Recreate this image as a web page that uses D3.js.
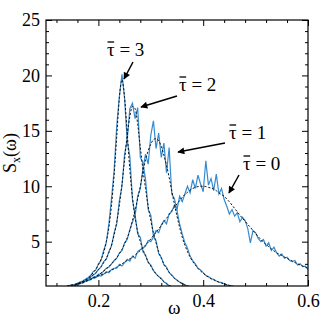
<!DOCTYPE html>
<html>
<head>
  <script src="https://d3js.org/d3.v7.min.js"></script>
  <style>
    body { margin: 0; background: #fff; }
    svg { display: block; }
    svg text { font-family: "Liberation Serif", "DejaVu Serif", "Times New Roman", serif !important; fill: #000; }
    .blue { fill: none; stroke: #368bcf; stroke-width: 1.2; }
    .theory { fill: none; stroke: #111; stroke-width: 1; stroke-dasharray: 2.2,1.8; }
  </style>
</head>
<body>
  <svg width="332" height="320"></svg>
  <script>
    // frequency grid shared by every curve (start, step)
    var omegaStart = 0.14, omegaStep = 0.005;

    // simulation spectra (blue, noisy)
    var simTau3 = [0.85,1.0,1.0,1.15,1.2,1.35,1.45,1.6,1.75,1.95,2.3,2.45,3.0,3.3,4.2,4.9,6.6,8.9,11.4,15.4,18.1,20.1,17.9,14.1,12.7,8.8,7.4,5.7,5.4,4.1,3.8,3.1,2.9,2.4,2.1,1.85,1.7,1.35,1.25,1.0,0.9];
    var simTau2 = [0.85,0.95,1.05,1.1,1.2,1.35,1.35,1.55,1.6,1.8,2.0,2.15,2.5,2.7,3.2,3.4,4.1,4.6,5.8,6.6,8.7,10.0,12.9,14.2,17.0,17.5,16.1,17.1,12.6,12.1,10.6,7.9,7.4,5.5,5.1,3.9,3.6,2.9,2.7,2.2,2.0,1.7,1.55,1.35,1.25,1.1,1.0,0.95,0.85];
    var simTau1 = [0.85,0.95,1.05,1.0,1.15,1.25,1.25,1.4,1.5,1.55,1.8,1.8,2.05,2.1,2.35,2.6,2.7,3.0,3.3,3.5,4.0,4.2,4.9,5.2,6.1,6.8,7.3,9.1,9.8,11.6,12.9,12.0,14.6,15.9,13.4,14.8,12.6,13.9,11.2,13.5,9.3,8.9,7.8,6.6,5.7,4.9,4.4,3.7,3.3,3.0,2.6,2.45,2.2,1.95,1.85,1.65,1.6,1.45,1.35,1.3,1.2,1.1,1.05,1.0,0.9];
    var simTau0 = [0.95,1.05,1.1,1.1,1.25,1.2,1.4,1.45,1.5,1.65,1.7,1.75,1.95,1.9,2.05,2.3,2.2,2.5,2.6,2.6,2.95,2.8,3.1,3.4,3.25,3.7,3.5,4.1,4.3,4.4,4.6,5.1,5.0,5.4,6.0,5.8,6.5,6.9,6.6,7.5,7.7,8.3,7.9,9.1,8.6,9.3,10.0,9.4,10.6,9.8,11.0,10.2,9.5,12.3,10.1,10.7,9.6,11.1,9.3,9.8,8.8,8.2,7.5,7.9,7.3,7.6,6.8,7.2,6.9,6.2,4.9,6.0,5.8,5.3,5.0,5.2,4.6,4.9,4.2,4.5,4.0,3.7,3.9,3.5,3.6,3.3,3.2,3.3,2.9,3.0,2.75,2.8,2.5];

    // theory curves (black dashed)
    var thTau3 = [0.9,0.95,1.0,1.1,1.2,1.3,1.4,1.55,1.7,1.9,2.2,2.5,2.9,3.4,4.0,5.0,6.3,8.3,11.0,14.5,18.0,19.6,18.0,14.8,11.5,9.0,7.2,5.9,5.0,4.3,3.7,3.2,2.8,2.4,2.1,1.85,1.6,1.4,1.2,1.05,0.95];
    var thTau2 = [0.9,0.95,1.0,1.1,1.2,1.3,1.4,1.5,1.65,1.8,2.0,2.2,2.45,2.75,3.1,3.5,4.0,4.7,5.6,6.8,8.3,10.2,12.4,14.6,16.3,17.2,17.0,15.6,13.5,11.5,9.8,8.2,6.9,5.8,4.9,4.1,3.5,3.0,2.6,2.25,1.95,1.7,1.5,1.35,1.2,1.1,1.0,0.95,0.9];
    var thTau1 = [0.9,0.95,1.0,1.07,1.15,1.22,1.3,1.4,1.5,1.62,1.75,1.87,2.0,2.17,2.35,2.55,2.75,3.0,3.25,3.55,3.9,4.3,4.8,5.35,6.0,6.9,7.8,8.9,10.0,11.3,12.4,13.2,13.8,14.2,14.3,14.1,13.6,12.8,11.9,10.8,9.6,8.4,7.3,6.3,5.4,4.7,4.1,3.6,3.2,2.9,2.6,2.35,2.15,1.95,1.8,1.67,1.55,1.45,1.35,1.27,1.2,1.12,1.05,1.0,0.95];
    var thTau0 = [1.0,1.05,1.1,1.15,1.2,1.28,1.35,1.43,1.5,1.6,1.7,1.8,1.9,2.0,2.1,2.2,2.3,2.43,2.55,2.7,2.85,3.0,3.15,3.3,3.45,3.6,3.8,4.0,4.2,4.45,4.7,4.95,5.25,5.55,5.85,6.15,6.45,6.8,7.1,7.45,7.8,8.1,8.4,8.7,9.0,9.25,9.45,9.65,9.8,9.9,9.97,10.0,10.0,9.97,9.9,9.83,9.75,9.6,9.4,9.25,9.1,8.85,8.6,8.3,8.0,7.7,7.4,7.1,6.85,6.55,6.3,6.0,5.75,5.45,5.2,4.95,4.75,4.55,4.35,4.17,4.0,3.87,3.75,3.62,3.5,3.37,3.25,3.12,3.0,2.9,2.8,2.7,2.6];

    var xMajor = [0.2, 0.4, 0.6];
    var yMajor = [5, 10, 15, 20, 25];
    var tauLabels = ["3", "2", "1", "0"];

    var svg = d3.select("svg"),
      margin = {top: 20, right: 24, bottom: 34, left: 46},
      width = +svg.attr("width") - margin.left - margin.right,
      height = +svg.attr("height") - margin.top - margin.bottom;

    var x = d3.scaleLinear().domain([0.1, 0.6]).range([0, width]),
      y = d3.scaleLinear().domain([1, 25]).range([height, 0]);

    var g = svg.append("g")
      .attr("transform", "translate(" + margin.left + "," + margin.top + ")");

    g.append("clipPath").attr("id", "plot")
      .append("rect").attr("width", width).attr("height", height);

    function toPoints(vals) {
      return vals.map(function(v, i) { return [omegaStart + i * omegaStep, v]; });
    }

    var simLine = d3.line()
      .x(function(d) { return x(d[0]); })
      .y(function(d) { return y(d[1]); });
    var thLine = d3.line()
      .curve(d3.curveMonotoneX)
      .x(function(d) { return x(d[0]); })
      .y(function(d) { return y(d[1]); });

    var curves = g.append("g").attr("clip-path", "url(#plot)");
    [simTau0, simTau1, simTau2, simTau3].forEach(function(s) {
      curves.append("path").attr("class", "blue").attr("d", simLine(toPoints(s)));
    });
    [thTau0, thTau1, thTau2, thTau3].forEach(function(s) {
      curves.append("path").attr("class", "theory").attr("d", thLine(toPoints(s)));
    });

    // axes: ticks inside, mirrored on top and right
    var xMinor = d3.range(0.12, 0.6001, 0.04).filter(function(v) {
      return !xMajor.some(function(m) { return Math.abs(m - v) < 1e-6; });
    });
    var yMinor = d3.range(2, 25, 1).filter(function(v) { return v % 5 !== 0; });

    function ticks(axis, vals, size) {
      return axis.tickValues(vals).tickSizeInner(size).tickSizeOuter(0).tickFormat("");
    }

    var atBottom = "translate(0," + height + ")", atRight = "translate(" + width + ",0)";
    g.append("g").attr("transform", atBottom).call(ticks(d3.axisTop(x), xMinor, 3));
    g.append("g").attr("transform", atBottom).call(ticks(d3.axisTop(x), xMajor, 6));
    g.append("g").call(ticks(d3.axisBottom(x), xMinor, 3));
    g.append("g").call(ticks(d3.axisBottom(x), xMajor, 6));
    g.append("g").call(ticks(d3.axisRight(y), yMinor, 3));
    g.append("g").call(ticks(d3.axisRight(y), yMajor, 6));
    g.append("g").attr("transform", atRight).call(ticks(d3.axisLeft(y), yMinor, 3));
    g.append("g").attr("transform", atRight).call(ticks(d3.axisLeft(y), yMajor, 6));

    g.append("g").attr("transform", atBottom)
      .call(d3.axisBottom(x).tickValues(xMajor).tickSize(0).tickPadding(8).tickFormat(d3.format(".1f")));
    g.append("g")
      .call(d3.axisLeft(y).tickValues(yMajor).tickSize(0).tickPadding(6));

    g.selectAll(".tick text").attr("font-size", 18);
    g.selectAll(".domain").remove();
    g.selectAll(".tick line").attr("stroke", "#000");

    g.append("rect").attr("width", width).attr("height", height)
      .attr("fill", "none").attr("stroke", "#000").attr("stroke-width", 1.2);

    // axis titles
    svg.append("text")
      .attr("x", margin.left + x(0.345)).attr("y", 314)
      .attr("text-anchor", "middle").attr("font-size", 19)
      .text("ω");

    var yl = svg.append("text")
      .attr("transform", "translate(16," + (margin.top + height / 2) + ") rotate(-90)")
      .attr("text-anchor", "middle").attr("font-size", 18);
    yl.append("tspan").text("S");
    yl.append("tspan").attr("font-size", 12).attr("dy", 4).text("x");
    yl.append("tspan").attr("dy", -4).text("(ω)");

    // annotations
    var defs = svg.append("defs");
    defs.append("marker").attr("id", "head")
      .attr("viewBox", "0 0 10 10").attr("refX", 9).attr("refY", 5)
      .attr("markerWidth", 9).attr("markerHeight", 7).attr("orient", "auto")
      .attr("markerUnits", "userSpaceOnUse")
      .append("path").attr("d", "M0,0L10,5L0,10z").attr("fill", "#000");

    var notes = [
      {text: [107, 56], from: [133, 62], to: [124, 79]},
      {text: [179, 91], from: [177, 96], to: [141, 107]},
      {text: [229, 139], from: [225, 143], to: [178, 152]},
      {text: [243, 170], from: [239, 175], to: [229, 193]}
    ];
    notes.forEach(function(n, i) {
      var t = svg.append("text").attr("x", n.text[0]).attr("y", n.text[1]).attr("font-size", 19);
      t.append("tspan").text("τ");
      t.append("tspan").text(" = " + tauLabels[i]);
      // bar over tau, sized from the rendered glyph
      var box = t.node().getExtentOfChar(0);
      svg.append("line")
        .attr("x1", box.x + 0.5).attr("x2", box.x + box.width - 0.5)
        .attr("y1", n.text[1] - 14).attr("y2", n.text[1] - 14)
        .attr("stroke", "#000").attr("stroke-width", 1.3);
      svg.append("line")
        .attr("x1", n.from[0]).attr("y1", n.from[1])
        .attr("x2", n.to[0]).attr("y2", n.to[1])
        .attr("stroke", "#000").attr("stroke-width", 1.5)
        .attr("marker-end", "url(#head)");
    });
  </script>
</body>
</html>
